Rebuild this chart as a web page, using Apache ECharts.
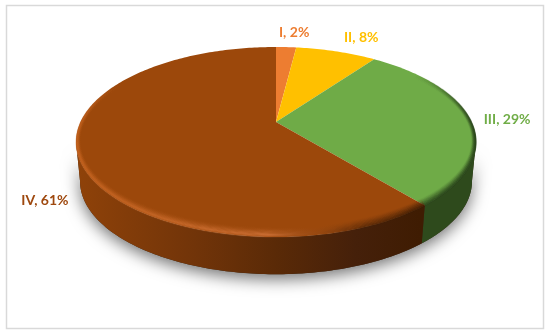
<!DOCTYPE html>
<html>
<head>
<meta charset="utf-8">
<style>
html, body { margin: 0; padding: 0; background: #fff; }
#pie_chart { width: 550px; height: 334px; }
</style>
<script src="https://cdn.jsdelivr.net/npm/echarts@6/dist/echarts.min.js"></script>
</head>
<body>
<div id="pie_chart"></div>
<script>
// chart data
var categories = ['I', 'II', 'III', 'IV'];
var shares = [2, 8, 29, 61];

// slice colours
var top_colors = ['#ED7D31', '#FFC000', '#6FAB47', '#9C480B'];
var label_colors = ['#ED7D31', '#FFC000', '#70AD47', '#9E480E'];

// label offset from the rim at each slice's middle angle
var label_offsets = [[8, -15], [25, -14], [37, 0], [-33, 45]];

// perspective of the disc
var apex_x = 276, apex_y = 122;
var radius_x = 195.5, radius_y = 90.8, tilt = 0.2105;
var wall_scale = 0.98, wall_drop = 39.5;

var total = shares.reduce(function (a, b) { return a + b; }, 0);

function slice_start(i) {
    var sum = 0;
    for (var n = 0; n < i; n++) sum += shares[n];
    return sum / total * Math.PI * 2;
}

// angle is clockwise from 12 o'clock
function project(angle, scale_x, scale_y, drop) {
    var den = 1 + tilt * Math.cos(angle);
    return [
        apex_x + scale_x * radius_x * Math.sin(angle) / den,
        apex_y - scale_y * radius_y * Math.cos(angle) / den + (drop || 0)
    ];
}

function arc_points(from, to, scale_x, scale_y, drop) {
    var points = [];
    var steps = Math.max(4, Math.ceil(Math.abs(to - from) * 60));
    for (var i = 0; i <= steps; i++) {
        points.push(project(from + (to - from) * i / steps, scale_x, scale_y, drop));
    }
    return points;
}

// outline of the side wall between two angles
function wall_points(from, to) {
    return arc_points(from, to, 1, 1, 0).concat(arc_points(to, from, wall_scale, wall_scale, wall_drop));
}

function x_gradient(stops) {
    return new echarts.graphic.LinearGradient(76, 0, 476, 0, stops, true);
}

function y_gradient(y1, y2, stops) {
    return new echarts.graphic.LinearGradient(0, y1, 0, y2, stops, true);
}

var wall_left = Math.acos(-tilt);            // rightmost point of the disc
var wall_right = Math.PI * 2 - wall_left;    // leftmost point of the disc

var wall_fills = [
    null,
    null,
    '#2E4A1C',
    x_gradient([
        { offset: 0, color: '#8F4209' },
        { offset: 0.3, color: '#713409' },
        { offset: 0.5, color: '#5A2A07' },
        { offset: 0.7, color: '#45200A' },
        { offset: 0.86, color: '#3F1C02' },
        { offset: 1, color: '#3F1C02' }
    ])
];

// soft shadow under the disc
function render_shadow() {
    return {
        type: 'polygon',
        shape: { points: wall_points(wall_left, wall_right) },
        style: {
            fill: '#3a2a1a',
            shadowBlur: 16,
            shadowOffsetY: 5,
            shadowColor: 'rgba(0, 0, 0, 0.55)'
        }
    };
}

function render_wall(params, api) {
    var i = params.dataIndex;
    var from = Math.max(slice_start(i), wall_left);
    var to = Math.min(slice_start(i + 1), wall_right);
    if (to <= from || !wall_fills[i]) return { type: 'group', children: [] };
    return {
        type: 'polygon',
        shape: { points: wall_points(from, to) },
        style: { fill: wall_fills[i] }
    };
}

function light_alpha(t) {
    if (t < 0.22) return 0.22 + t * 2.2;
    return 0.7 * Math.pow(1 - (t - 0.22) / 0.78, 2);
}

function rim_line(from, to, t, stroke) {
    return {
        type: 'polyline',
        shape: { points: arc_points(from, to, 1 - 0.024 * t, 1 - 0.09 * t, 0) },
        style: { fill: null, stroke: stroke, lineWidth: 1.2 }
    };
}

function rim_lines(i) {
    var lines = [];
    var count = 14;
    for (var n = count - 1; n >= 0; n--) {
        var t = n / (count - 1);
        var light = light_alpha(t);
        var dark = 0.75 * Math.pow(1 - t, 1.4);
        if (i == 3) {
            // front of the disc: lit on the left, dark on the right
            lines.push(rim_line(slice_start(3), wall_right, t, x_gradient([
                { offset: 0, color: 'rgba(196,98,30,' + light + ')' },
                { offset: 0.48, color: 'rgba(210,116,58,' + light + ')' },
                { offset: 0.6, color: 'rgba(150,75,25,' + light * 0.45 + ')' },
                { offset: 0.7, color: 'rgba(70,32,6,' + dark * 0.7 + ')' },
                { offset: 0.85, color: 'rgba(58,26,2,' + dark + ')' },
                { offset: 1, color: 'rgba(58,26,2,' + dark + ')' }
            ])));
            // the highlight dies away round the back left
            lines.push(rim_line(wall_right, Math.PI * 1.72, t, y_gradient(148, 85, [
                { offset: 0, color: 'rgba(196,98,30,' + light + ')' },
                { offset: 1, color: 'rgba(196,98,30,0)' }
            ])));
        } else if (i == 2) {
            lines.push(rim_line(Math.PI * 0.3, slice_start(3), t, y_gradient(75, 135, [
                { offset: 0, color: 'rgba(38,64,24,0)' },
                { offset: 1, color: 'rgba(38,64,24,' + dark + ')' }
            ])));
        }
    }
    return lines;
}

function render_top(params, api) {
    var i = params.dataIndex;
    var from = slice_start(i);
    var to = slice_start(i + 1);
    var children = [{
        type: 'polygon',
        shape: { points: [[apex_x, apex_y]].concat(arc_points(from, to, 1, 1, 0)) },
        style: { fill: top_colors[i] }
    }];
    return { type: 'group', children: children.concat(rim_lines(i)) };
}

function render_label(params, api) {
    var i = params.dataIndex;
    var anchor = project((slice_start(i) + slice_start(i + 1)) / 2, 1, 1, 0);
    return {
        type: 'text',
        style: {
            x: anchor[0] + label_offsets[i][0],
            y: anchor[1] + label_offsets[i][1],
            text: categories[i] + ', ' + api.value(0) + '%',
            fill: label_colors[i],
            font: 'bold 14px Lato, sans-serif',
            align: 'center',
            verticalAlign: 'middle'
        }
    };
}

var pie_chart = echarts.init(document.getElementById('pie_chart'));

var pie_option = {
    animation: false,
    backgroundColor: '#fff',
    graphic: [{
        type: 'rect',
        shape: { x: 6.5, y: 5.5, width: 537, height: 323 },
        style: { fill: '#fff', stroke: '#D9D9D9', lineWidth: 1.5 },
        z: -1
    }],
    series: [
        { type: 'custom', coordinateSystem: 'none', silent: true, data: [total], renderItem: render_shadow, z: 1 },
        { type: 'custom', coordinateSystem: 'none', silent: true, data: shares, renderItem: render_wall, z: 2 },
        { type: 'custom', coordinateSystem: 'none', silent: true, data: shares, renderItem: render_top, z: 3 },
        { type: 'custom', coordinateSystem: 'none', silent: true, data: shares, renderItem: render_label, z: 4 }
    ]
};

pie_chart.setOption(pie_option);
</script>
</body>
</html>
